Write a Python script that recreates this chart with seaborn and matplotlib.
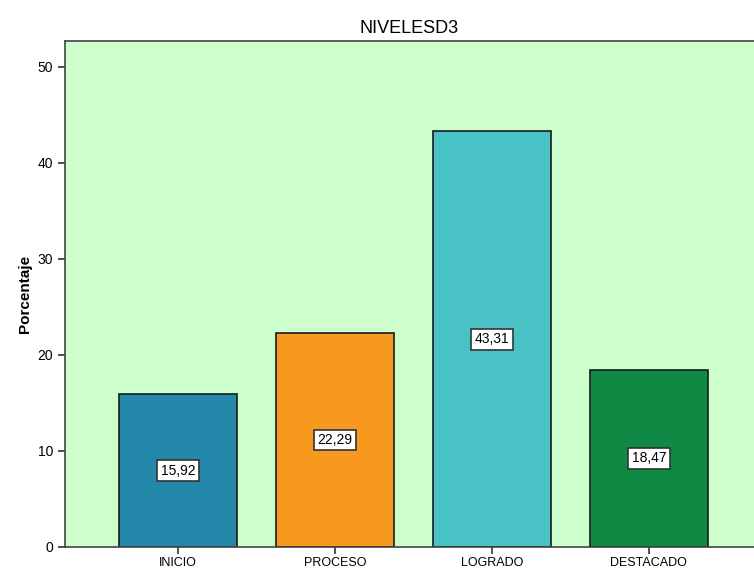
import matplotlib
matplotlib.use("Agg")
import matplotlib.pyplot as plt
import seaborn as sns
import pandas as pd

categories = ["INICIO", "PROCESO", "LOGRADO", "DESTACADO"]
values = [15.92, 22.29, 43.31, 18.47]
value_labels = ["15,92", "22,29", "43,31", "18,47"]
colors = ["#2488AA", "#F7981F", "#48C2C5", "#0F8A45"]
yticks = [0, 10, 20, 30, 40, 50]

sns.set_style("white")
plt.rcParams['font.family'] = ['Liberation Sans', 'DejaVu Sans']
plt.rcParams['text.color'] = 'black'
plt.rcParams['axes.labelcolor'] = 'black'
plt.rcParams['xtick.color'] = 'black'
plt.rcParams['ytick.color'] = 'black'

df = pd.DataFrame({"cat": categories, "val": values})

fig = plt.figure(figsize=(7.54, 5.69), dpi=100)
ax = fig.add_axes([65/754, 1-547/569, 1-65/754, (547-41)/569])
ax.set_facecolor("#CCFFCC")

sns.barplot(data=df, x="cat", y="val", hue="cat", palette=colors, legend=False,
            width=0.75, edgecolor="#1a1a1a", linewidth=1.2, ax=ax, saturation=1)

for i, (v, lab) in enumerate(zip(values, value_labels)):
    ax.text(i, v/2, lab, ha="center", va="center", fontsize=10, color="black",
            bbox=dict(boxstyle="square,pad=0.25", fc="white", ec="#333333", lw=1.2))

ax.set_xlim(-0.72, 3.67)
ax.set_ylim(0, 52.7)
ax.set_yticks(yticks)
ax.set_yticklabels([str(t) for t in yticks], fontsize=10)
ax.tick_params(axis="x", labelsize=9, length=5, width=1.2, color="#333333", labelcolor="black", direction="out", bottom=True, pad=2)
ax.tick_params(axis="y", length=5, width=1.2, color="#333333", labelcolor="black", direction="out", left=True)
ax.set_xlabel("")
ax.set_ylabel("Porcentaje", fontsize=11, fontweight="bold", color="black")
ax.set_title("NIVELESD3", fontsize=13, pad=6, color="black")

for s in ["left", "bottom", "top"]:
    ax.spines[s].set_color("#444444")
    ax.spines[s].set_linewidth(1.2)
ax.spines["right"].set_visible(False)

fig.savefig("out.png", dpi=100)
